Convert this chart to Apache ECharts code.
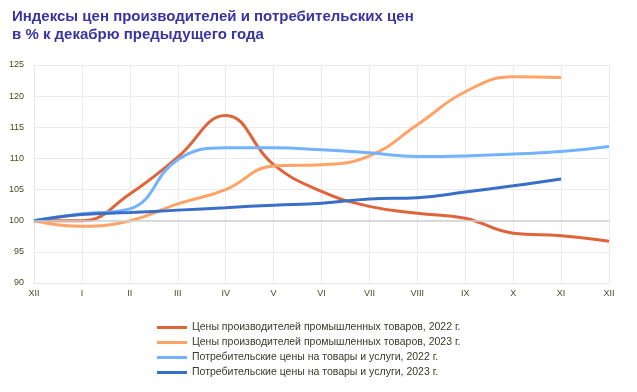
<!DOCTYPE html>
<html><head><meta charset="utf-8">
<script src="https://cdn.jsdelivr.net/npm/echarts@6/dist/echarts.min.js"></script>
<style>html,body{margin:0;padding:0;background:#fff}#c{width:637px;height:392px}</style>
</head><body><div id="c"></div>
<script>
const months = ['XII','I','II','III','IV','V','VI','VII','VIII','IX','X','XI','XII'];
const yTicks = [90,95,100,105,110,115,120,125];
const seriesNames = [
  'Цены производителей промышленных товаров, 2022 г.',
  'Цены производителей промышленных товаров, 2023 г.',
  'Потребительские цены на товары и услуги, 2022 г.',
  'Потребительские цены на товары и услуги, 2023 г.'
];
const ppi2022 = [100, 100.0, 104.3, 110.2, 116.9, 109.0, 104.7, 102.3, 101.2, 100.4, 98.0, 97.6, 96.7];
const ppi2023 = [100, 99.1, 100.0, 102.7, 105.0, 108.8, 109.0, 110.4, 115.4, 120.7, 123.1, 123.0];
const cpi2022 = [100, 101.1, 101.9, 109.8, 111.7, 111.7, 111.4, 110.9, 110.3, 110.4, 110.7, 111.1, 111.9];
const cpi2023 = [100, 101.0, 101.3, 101.7, 102.1, 102.5, 102.8, 103.5, 103.7, 104.6, 105.6, 106.7];

const colors = ['#e0643a','#ffa366','#72b2ff','#3a6fc8'];
const chart = echarts.init(document.getElementById('c'));
const mk = (name, data, i) => ({
  name, type:'line', data, smooth:0.45, symbol:'none',
  lineStyle:{width:3, color:colors[i]}, itemStyle:{color:colors[i]}, z: 3
});
const s = [mk(seriesNames[0], ppi2022, 0), mk(seriesNames[1], ppi2023, 1), mk(seriesNames[2], cpi2022, 2), mk(seriesNames[3], cpi2023, 3)];
s.push({type:'line', data:[], silent:true, markLine:{silent:true, symbol:'none', label:{show:false},
  lineStyle:{color:'#d0d0d0', type:'solid', width:1.5}, data:[{yAxis:100}]}, z:1});
chart.setOption({
  animation:false,
  title:{text:'Индексы цен производителей и потребительских цен\nв % к декабрю предыдущего года', left:7, top:3,
    textStyle:{fontFamily:'Liberation Sans, Arial', fontSize:15, fontWeight:'bold', color:'#3a33a0', lineHeight:18}},
  grid:{left:34, right:28, top:65, bottom:109},
  legend:{orient:'vertical', left:152, top:317, itemWidth:30, itemHeight:3, itemGap:4, icon:'rect',
    data:seriesNames,
    textStyle:{fontFamily:'Liberation Sans, Arial', fontSize:10.5, color:'#3a3a2a'}},
  xAxis:{type:'category', data:months, boundaryGap:false,
    axisLine:{lineStyle:{color:'#e6e6e6'}}, axisTick:{show:false},
    axisLabel:{fontFamily:'Liberation Sans, Arial', fontSize:9, color:'#4a4a2a', margin:6},
    splitLine:{show:true, lineStyle:{color:'#ebebeb'}}},
  yAxis:{type:'value', min:90, max:125, interval:5,
    axisLine:{show:true, lineStyle:{color:'#e6e6e6'}}, axisTick:{show:false},
    axisLabel:{fontFamily:'Liberation Sans, Arial', fontSize:9, color:'#4a4a2a', margin:10},
    splitLine:{lineStyle:{color:'#ebebeb'}}},
  series:s
});
</script></body></html>
